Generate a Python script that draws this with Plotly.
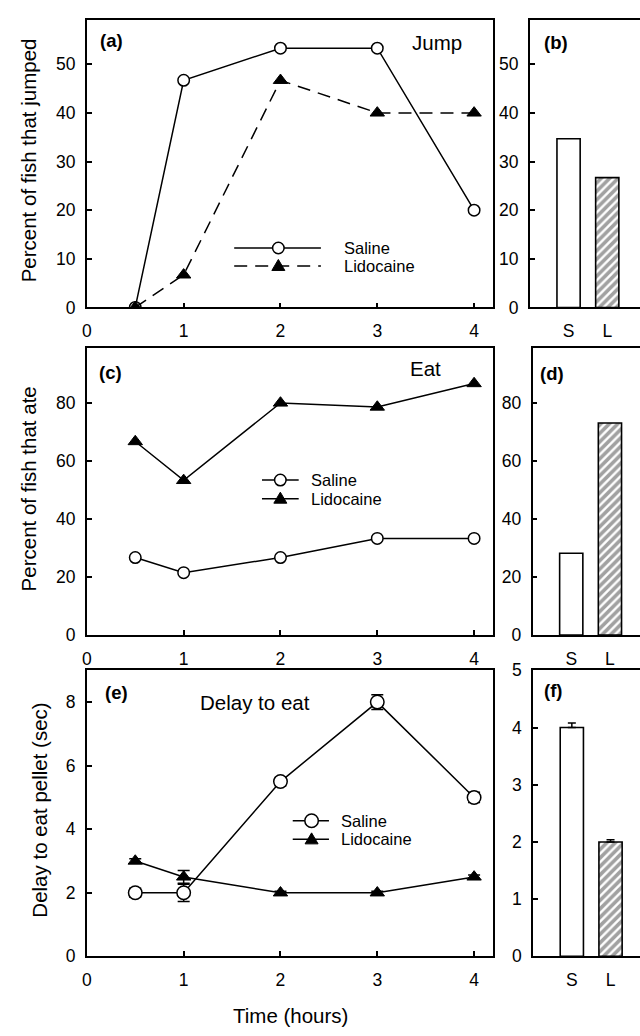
import plotly.graph_objects as go

# ---------------- data ----------------
time_h = [0.5, 1, 2, 3, 4]
jump_saline = [0.0, 46.7, 53.3, 53.3, 20.0]
jump_lido = [0.0, 6.7, 46.7, 40.0, 40.0]
eat_saline = [26.7, 21.5, 26.7, 33.3, 33.3]
eat_lido = [66.7, 53.3, 80.0, 78.6, 86.7]
delay_saline = [2.0, 2.0, 5.5, 8.0, 5.0]
delay_saline_err = [0.14, 0.27, 0.13, 0.23, 0.16]
delay_lido = [3.0, 2.5, 2.0, 2.0, 2.5]
delay_lido_err = [0.07, 0.20, 0.05, 0.05, 0.06]

bar_groups = ["S", "L"]
jump_total = [34.7, 26.7]
eat_total = [28.2, 73.1]
delay_total = [4.0, 2.0]
delay_total_err = [0.08, 0.04]

time_ticks = [0, 1, 2, 3, 4]
jump_ticks = [0, 10, 20, 30, 40, 50]
eat_ticks = [0, 20, 40, 60, 80]
delay_ticks = [0, 2, 4, 6, 8]
delay_bar_ticks = [0, 1, 2, 3, 4, 5]

# ---------------- layout constants (pixels) ----------------
W, H = 640, 1036
FONT = "Liberation Sans, Arial, sans-serif"
BLACK = "#000000"
DASH = "13px,8px"


def fx(px):
    return px / W


def fy(py):
    return 1 - py / H


LEFT_X = (82.5, 492.3)
ROWS = {"a": (10.7, 303.3), "c": (344.5, 637.3), "e": (673.3, 965.0)}
BAR_LEFT = {"b": 529.0, "d": 531.7, "f": 532.3}
BAR_STEP = 39.0  # px per category

fig = go.Figure()

line_style = dict(color=BLACK, width=1.5)
circ = dict(symbol="circle", size=11.5, color="white", line=dict(color=BLACK, width=1.5))
tri = dict(symbol="triangle-up", size=12.5, color=BLACK, line=dict(color=BLACK, width=1))

# (a) jump
fig.add_trace(go.Scatter(x=time_h, y=jump_saline, mode="lines+markers", line=line_style,
                         marker=circ, xaxis="x", yaxis="y", showlegend=False))
fig.add_trace(go.Scatter(x=time_h, y=jump_lido, mode="lines+markers",
                         line=dict(color=BLACK, width=1.5, dash=DASH),
                         marker=tri, xaxis="x", yaxis="y", showlegend=False))
# (c) eat
fig.add_trace(go.Scatter(x=time_h, y=eat_saline, mode="lines+markers", line=line_style,
                         marker=circ, xaxis="x3", yaxis="y3", showlegend=False))
fig.add_trace(go.Scatter(x=time_h, y=eat_lido, mode="lines+markers", line=line_style,
                         marker=tri, xaxis="x3", yaxis="y3", showlegend=False))
# (e) delay
err_style = dict(type="data", color=BLACK, thickness=1.5, width=6)
fig.add_trace(go.Scatter(x=time_h, y=delay_lido, mode="lines+markers", line=line_style,
                         marker=tri, error_y=dict(array=delay_lido_err, **err_style),
                         xaxis="x5", yaxis="y5", showlegend=False))
fig.add_trace(go.Scatter(x=time_h, y=delay_saline, mode="lines+markers", line=line_style,
                         marker=dict(circ, size=13.5),
                         error_y=dict(array=delay_saline_err, **err_style),
                         xaxis="x5", yaxis="y5", showlegend=False))

# bars
bar_colors = ["white", "white"]
bar_patterns = dict(shape=["", "/"], fgcolor=BLACK, bgcolor="white", size=6, solidity=0.6)
bar_marker = dict(color=bar_colors, line=dict(color=BLACK, width=1.6), pattern=bar_patterns)
fig.add_trace(go.Bar(x=bar_groups, y=jump_total, width=0.6, marker=bar_marker,
                     xaxis="x2", yaxis="y2", showlegend=False))
fig.add_trace(go.Bar(x=bar_groups, y=eat_total, width=0.6, marker=bar_marker,
                     xaxis="x4", yaxis="y4", showlegend=False))
fig.add_trace(go.Bar(x=bar_groups, y=delay_total, width=0.6, marker=bar_marker,
                     error_y=dict(type="data", array=delay_total_err, arrayminus=[0, 0],
                                  symmetric=False, color=BLACK, thickness=1.5, width=4),
                     xaxis="x6", yaxis="y6", showlegend=False))

tickfont = dict(family=FONT, size=17.5, color=BLACK)
axis_common = dict(showline=True, linecolor=BLACK, linewidth=1.8, ticks="inside",
                   ticklen=5, tickwidth=1.5, tickcolor=BLACK, showgrid=False,
                   zeroline=False, tickfont=tickfont)

layout = dict(width=W, height=H, margin=dict(l=0, r=0, t=0, b=0),
              paper_bgcolor="white", plot_bgcolor="white", showlegend=False,
              font=dict(family=FONT, color=BLACK))

# left panels
left_specs = [("", "a", jump_ticks, [0, 59]), ("3", "c", eat_ticks, [0, 99]),
              ("5", "e", delay_ticks, [0, 9])]
for suf, row, yt, yr in left_specs:
    top, bot = ROWS[row]
    layout["xaxis" + suf] = dict(axis_common, domain=[fx(LEFT_X[0]), fx(LEFT_X[1])],
                                 range=[0, 4.2], tickvals=time_ticks, mirror=True,
                                 anchor="y" + suf, ticklabelstandoff=7)
    layout["yaxis" + suf] = dict(axis_common, domain=[fy(bot), fy(top)], range=yr,
                                 tickvals=yt, mirror=True, anchor="x" + suf,
                                 ticklabelstandoff=6)

# bar panels
bar_specs = [("2", "b", "a", jump_ticks, [0, 59]), ("4", "d", "c", eat_ticks, [0, 99]),
             ("6", "f", "e", delay_bar_ticks, [0, 5])]
for suf, pan, row, yt, yr in bar_specs:
    top, bot = ROWS[row]
    left = BAR_LEFT[pan]
    layout["xaxis" + suf] = dict(axis_common, domain=[fx(left), 1.0],
                                 range=[-1.0, (W - left) / BAR_STEP - 1.0],
                                 type="category", ticks="", mirror=True,
                                 anchor="y" + suf, ticklabelstandoff=7)
    layout["yaxis" + suf] = dict(axis_common, domain=[fy(bot), fy(top)], range=yr,
                                 tickvals=yt, mirror=False, anchor="x" + suf,
                                 ticklabelstandoff=6)

fig.update_layout(**layout)

annotations = []
# panel letters
letters = [("(a)", 94, 31.5), ("(b)", 541, 33), ("(c)", 93, 370), ("(d)", 537, 371),
           ("(e)", 99, 695.5), ("(f)", 541, 694)]
for txt, x, y in letters:
    annotations.append(dict(text="<b>" + txt + "</b>", x=fx(x), y=fy(y), xref="paper",
                            yref="paper", xanchor="left", yanchor="middle",
                            showarrow=False, font=dict(family=FONT, size=18.5, color=BLACK)))
# panel captions
captions = [("Jump", 435.7, 33.3), ("Eat", 423.5, 365.8), ("Delay to eat", 252.4, 705.8)]
for txt, x, y in captions:
    annotations.append(dict(text=txt, x=fx(x), y=fy(y), xref="paper", yref="paper",
                            xanchor="center", yanchor="middle", showarrow=False,
                            font=dict(family=FONT, size=20.5, color=BLACK)))
# axis titles
ytitles = [("Percent of fish that jumped", 23.5, 153.0),
           ("Percent of fish that ate", 24.0, 488.0),
           ("Delay to eat pellet (sec)", 34.7, 816.0)]
for txt, x, y in ytitles:
    annotations.append(dict(text=txt, x=fx(x), y=fy(y), xref="paper", yref="paper",
                            xanchor="center", yanchor="middle", textangle=-90,
                            showarrow=False, font=dict(family=FONT, size=20.5, color=BLACK)))
annotations.append(dict(text="Time (hours)", x=fx(287.5), y=fy(1025), xref="paper",
                        yref="paper", xanchor="center", yanchor="middle", showarrow=False,
                        font=dict(family=FONT, size=20.5, color=BLACK)))

# legends (drawn keys)
shapes = []
legends = [
    # (x0, x1, marker x, y saline, y lido, text x, lido dash, circle size)
    (231, 318.4, 275.5, 242.7, 261.0, 339.6, DASH, 11.5),
    (259, 296, 277.5, 479.3, 498.3, 306, "solid", 11.5),
    (290, 326.5, 309, 826.7, 845.7, 336.7, "solid", 13.5),
]
for x0, x1, xm, ys, yl, xt, dash, csize in legends:
    shapes.append(dict(type="line", xref="paper", yref="paper", x0=fx(x0), x1=fx(x1),
                       y0=fy(ys), y1=fy(ys), line=dict(color=BLACK, width=1.5)))
    shapes.append(dict(type="line", xref="paper", yref="paper", x0=fx(x0), x1=fx(x1),
                       y0=fy(yl), y1=fy(yl), line=dict(color=BLACK, width=1.5, dash=dash)))
    r = csize / 2
    shapes.append(dict(type="circle", xref="paper", yref="paper", xsizemode="pixel",
                       ysizemode="pixel", xanchor=fx(xm), yanchor=fy(ys),
                       x0=-r, x1=r, y0=-r, y1=r, fillcolor="white",
                       line=dict(color=BLACK, width=1.5)))
    shapes.append(dict(type="path", xref="paper", yref="paper", xsizemode="pixel",
                       ysizemode="pixel", xanchor=fx(xm), yanchor=fy(yl),
                       path="M -6.5,-4.5 L 6.5,-4.5 L 0,6.5 Z", fillcolor=BLACK,
                       line=dict(color=BLACK, width=1)))
    for txt, yy in (("Saline", ys), ("Lidocaine", yl)):
        annotations.append(dict(text=txt, x=fx(xt), y=fy(yy), xref="paper", yref="paper",
                                xanchor="left", yanchor="middle", showarrow=False,
                                font=dict(family=FONT, size=16.5, color=BLACK)))

fig.update_layout(annotations=annotations, shapes=shapes)
fig.write_html("out.html")
